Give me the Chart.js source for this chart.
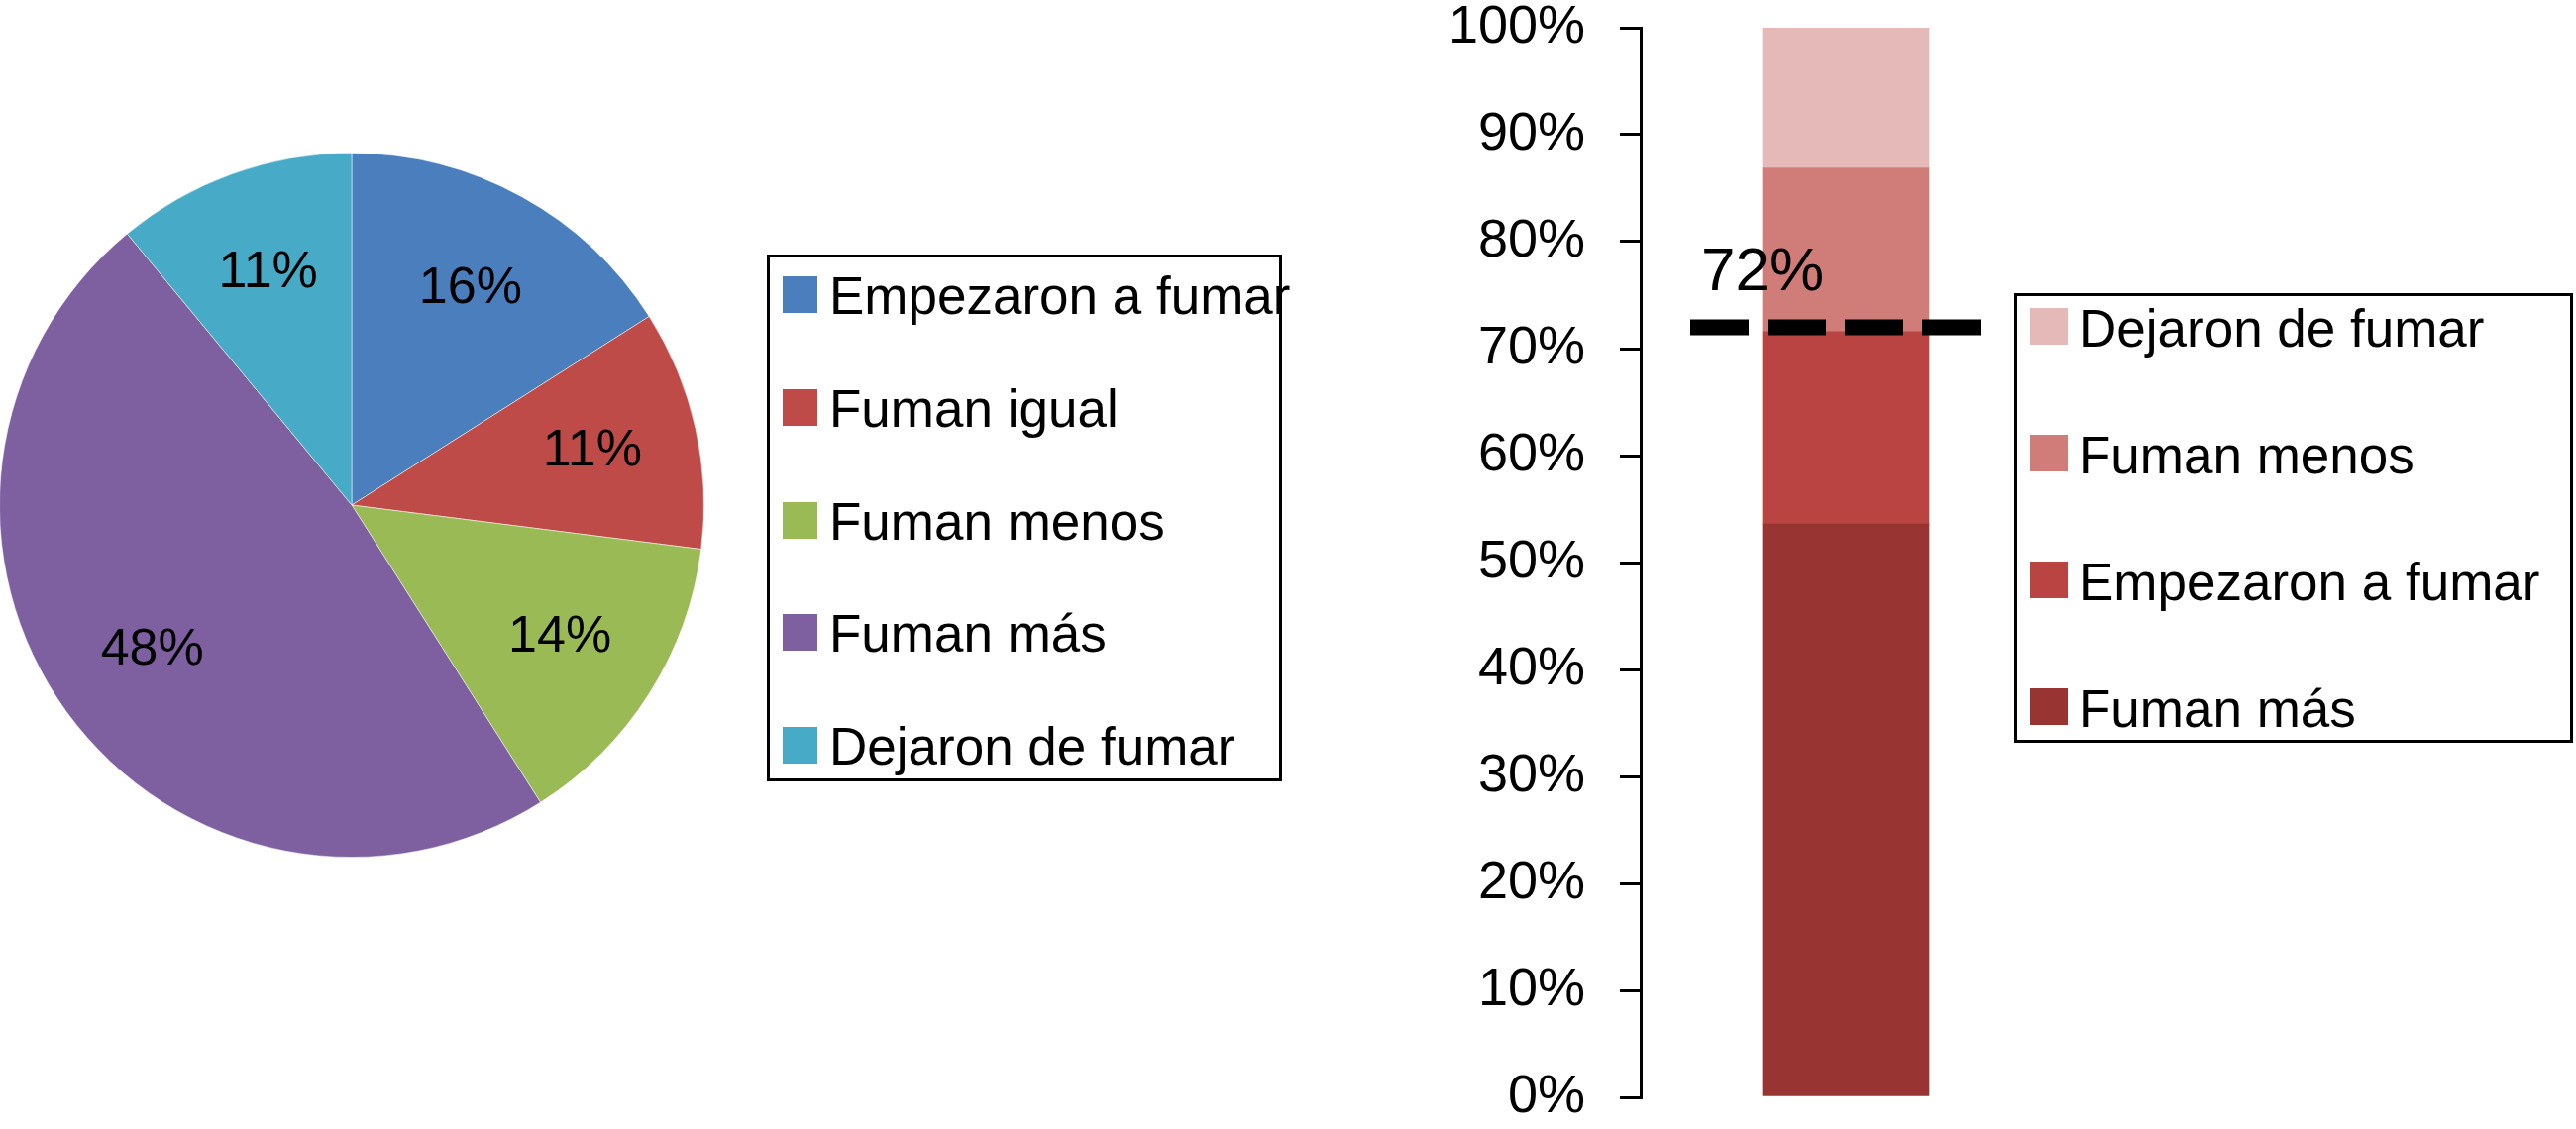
<!DOCTYPE html>
<html lang="es">
<head>
<meta charset="utf-8">
<title>Cambios en el consumo de tabaco</title>
<script src="https://cdn.jsdelivr.net/npm/chart.js@4.4.1/dist/chart.umd.min.js"></script>
<style>
  html, body { margin: 0; padding: 0; background: #fff; }
  body { width: 2600px; height: 1140px; position: relative; overflow: hidden; font-family: "Liberation Sans", Arial, sans-serif; }
  canvas { position: absolute; }
  #pieChart { left: -1px; top: 154px; }
  #barChart { left: 1400px; top: -40px; }
  .legend-box { position: absolute; border: 3px solid #000; box-sizing: border-box; }
  #pieLegend { left: 774px; top: 257px; width: 520px; height: 532px; }
  #barLegend { left: 2033px; top: 296px; width: 564px; height: 454px; }
  .legend-swatch { position: absolute; }
  .legend-text { position: absolute; white-space: nowrap; font-size: 53px; line-height: 53px; color: #000; }
</style>
</head>
<body>
<canvas id="pieChart" width="712" height="712"></canvas>
<div id="pieLegend" class="legend-box"></div>
<canvas id="barChart" width="700" height="1218"></canvas>
<div id="barLegend" class="legend-box"></div>

<script>
// Datos del gráfico circular
const pieLabels = ['Empezaron a fumar', 'Fuman igual', 'Fuman menos', 'Fuman más', 'Dejaron de fumar'];
const pieValues = [16, 11, 14, 48, 11];
const pieColors = ['#4A7EBD', '#BE4B48', '#99BA55', '#7E60A1', '#47ABC7'];

// Datos de la barra apilada (de abajo hacia arriba)
const barCategories = ['Total'];
const barLabels = ['Fuman más', 'Empezaron a fumar', 'Fuman menos', 'Dejaron de fumar'];
const barValues = [53.6, 18.0, 15.3, 13.1];
const barColors = ['#983533', '#B94442', '#D07C79', '#E5B9B8'];
const yTicks = [0, 10, 20, 30, 40, 50, 60, 70, 80, 90, 100];
const umbral = 72;

Chart.defaults.font.family = '"Liberation Sans", Arial, sans-serif';
Chart.defaults.color = '#000';

// Etiquetas de porcentaje dentro de cada sector
const pieLabelsPlugin = {
    id: 'pieLabels',
    afterDatasetsDraw(chart) {
        const ctx = chart.ctx;
        const meta = chart.getDatasetMeta(0);
        ctx.save();
        ctx.font = '52px "Liberation Sans", Arial, sans-serif';
        ctx.fillStyle = '#000';
        ctx.textAlign = 'center';
        ctx.textBaseline = 'middle';
        meta.data.forEach((arc, i) => {
            const mid = (arc.startAngle + arc.endAngle) / 2;
            const r = arc.outerRadius * 0.7;
            ctx.fillText(pieValues[i] + '%', arc.x + Math.cos(mid) * r, arc.y + Math.sin(mid) * r);
        });
        ctx.restore();
    }
};

// Línea discontinua del umbral
const umbralPlugin = {
    id: 'umbralLine',
    afterDatasetsDraw(chart) {
        const ctx = chart.ctx;
        const y = chart.scales.y.getPixelForValue(umbral);
        const bar = chart.getDatasetMeta(0).data[0];
        const left = bar.x - bar.width / 2 - 73;
        const right = bar.x + bar.width / 2 + 53;
        ctx.save();
        ctx.strokeStyle = '#000';
        ctx.lineWidth = 16;
        ctx.setLineDash([59, 19]);
        ctx.beginPath();
        ctx.moveTo(left, y);
        ctx.lineTo(right, y);
        ctx.stroke();
        ctx.setLineDash([]);
        ctx.fillStyle = '#000';
        ctx.font = '62px "Liberation Sans", Arial, sans-serif';
        ctx.textAlign = 'left';
        ctx.textBaseline = 'alphabetic';
        ctx.fillText(umbral + '%', left + 11, y - 37);
        ctx.restore();
    }
};

new Chart(document.getElementById('pieChart'), {
    type: 'pie',
    data: {
        labels: pieLabels,
        datasets: [{
            data: pieValues,
            backgroundColor: pieColors,
            borderColor: 'rgba(255, 255, 255, 0.5)',
            borderWidth: 1
        }]
    },
    options: {
        responsive: false,
        animation: false,
        plugins: {
            legend: { display: false },
            tooltip: { enabled: false }
        }
    },
    plugins: [pieLabelsPlugin]
});

new Chart(document.getElementById('barChart'), {
    type: 'bar',
    data: {
        labels: barCategories,
        datasets: barLabels.map((label, i) => ({
            label: label,
            data: [barValues[i]],
            backgroundColor: barColors[i],
            borderWidth: 0,
            barThickness: 168
        }))
    },
    options: {
        responsive: false,
        animation: false,
        layout: { padding: { top: 68, bottom: 70, left: 0, right: 30 } },
        scales: {
            x: {
                stacked: true,
                display: false
            },
            y: {
                stacked: true,
                min: 0,
                max: 100,
                afterFit(scale) { scale.width = 256; },
                afterBuildTicks(scale) { scale.ticks = yTicks.map(v => ({ value: v })); },
                border: { display: true, color: '#000', width: 3 },
                grid: {
                    drawOnChartArea: false,
                    drawTicks: true,
                    tickLength: 21,
                    lineWidth: 3,
                    color: '#000'
                },
                ticks: {
                    padding: 35,
                    font: { size: 54, lineHeight: 1 },
                    color: '#000',
                    callback: v => v + '%'
                }
            }
        },
        plugins: {
            legend: { display: false },
            tooltip: { enabled: false }
        }
    },
    plugins: [umbralPlugin]
});

// Leyendas con recuadro
function buildLegend(id, labels, colors, cfg) {
    const box = document.getElementById(id);
    labels.forEach((label, i) => {
        const sw = document.createElement('div');
        sw.className = 'legend-swatch';
        sw.style.left = cfg.swatchLeft + 'px';
        sw.style.top = (cfg.swatchTop + i * cfg.step) + 'px';
        sw.style.width = cfg.swatchW + 'px';
        sw.style.height = cfg.swatchH + 'px';
        sw.style.background = colors[i];
        box.appendChild(sw);

        const txt = document.createElement('div');
        txt.className = 'legend-text';
        txt.style.left = cfg.textLeft + 'px';
        txt.style.top = (cfg.textTop + i * cfg.step) + 'px';
        txt.textContent = label;
        box.appendChild(txt);
    });
}

buildLegend('pieLegend', pieLabels, pieColors, {
    swatchLeft: 13, swatchTop: 19, swatchW: 35, swatchH: 37,
    textLeft: 60, textTop: 12, step: 113.75
});

// la leyenda de la barra va en orden inverso (arriba primero)
buildLegend('barLegend', barLabels.slice().reverse(), barColors.slice().reverse(), {
    swatchLeft: 13, swatchTop: 12, swatchW: 38, swatchH: 37,
    textLeft: 62, textTop: 6, step: 128
});
</script>
</body>
</html>
